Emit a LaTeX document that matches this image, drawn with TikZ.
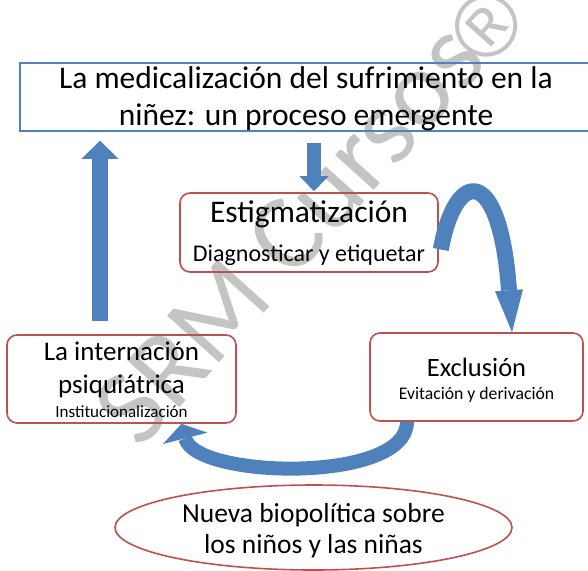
\documentclass[tikz,border=0pt]{standalone}
\usepackage{fontspec}
\setmainfont{Carlito}
\newfontfamily\markfont{Liberation Sans}
\usetikzlibrary{calc}
\usetikzlibrary{shapes.geometric}
\usetikzlibrary{arrows.meta}

\definecolor{boxred}{HTML}{C0504D}
\definecolor{arrowblue}{HTML}{4F81BD}

\begin{document}
\begin{tikzpicture} [
    x = 1pt, y = -1pt,
    stage/.style = {draw = boxred, line width = 1.6pt, rounded corners = 10pt, align = center, inner sep = 0pt},
    blockarrow/.style = {draw = arrowblue, line width = #1}
]
\useasboundingbox (0,0) rectangle (588,570);

% watermark
\node (mark) at (310,213) [rotate = 48, text = black!23, font = \fontsize{109}{109}\selectfont] {SRM Cursos\hspace{-7pt}\raisebox{-4pt}{\markfont\fontsize{88}{88}\selectfont ®}};

% title and stages
\node (title) at (306,97) [draw = arrowblue, line width = 1.5pt, inner sep = 0pt, minimum width = 572pt, minimum height = 68pt, text height = 62pt, text depth = 6pt, align = center, font = \fontsize{31.5}{37}\selectfont] {La medicalización del sufrimiento en la\\niñez: un proceso emergente};
\node (estig) at (309,232.5) [stage, minimum width = 258pt, minimum height = 79pt, text height = 68pt, text depth = 11pt, font = \fontsize{31.5}{38.5}\selectfont] {Estigmatización\\{\fontsize{24}{28}\selectfont Diagnosticar y etiquetar}};
\node (intern) at (121.5,379) [stage, minimum width = 229pt, minimum height = 88pt, text height = 82pt, text depth = 6pt, font = \fontsize{27}{33}\selectfont] {La internación\\psiquiátrica\\[-9pt]{\fontsize{17}{19}\selectfont Institucionalización}};
\node (excl) at (476.5,377) [stage, minimum width = 213pt, minimum height = 88pt, text height = 66pt, text depth = 22pt, font = \fontsize{26.5}{23}\selectfont] {Exclusión\\{\fontsize{17.7}{20}\selectfont Evitación y derivación}};
\node (bio) at (313.5,527.5) [draw = boxred, line width = 1.6pt, ellipse, inner sep = 0pt, minimum width = 397pt, minimum height = 85pt, text height = 55pt, text depth = 4pt, align = center, font = \fontsize{27.5}{31}\selectfont] {Nueva biopolítica sobre\\los niños y las niñas};

% arrows
\draw [blockarrow = 14pt, -{Triangle[length = 15pt, width = 29pt, line width = 0pt]}] ($(title.south)+(8,11)$) -- ($(estig.north)+(5,-1)$);
\draw [blockarrow = 16pt, -{Triangle[length = 18pt, width = 37pt, line width = 0pt]}] ($(intern.north)+(-21.5,-13)$) -- ($(intern.north |- title.south)+(-21.5,9)$);
\draw [blockarrow = 16pt, -{Triangle[length = 42pt, width = 28pt, line width = 0pt]}] ($(estig.east)+(2,17)$) .. controls +(15,-82) and +(-12,-168) .. ($(excl.north)+(35.5,0)$);
\draw [blockarrow = 14pt, -{Triangle[length = 15pt, width = 46pt, line width = 0pt]}] ($(excl.south)+(-69.5,0)$) .. controls +(0,62) and +(14,55) .. ($(intern.south)+(60,0)$);

\end{tikzpicture}
\end{document}
